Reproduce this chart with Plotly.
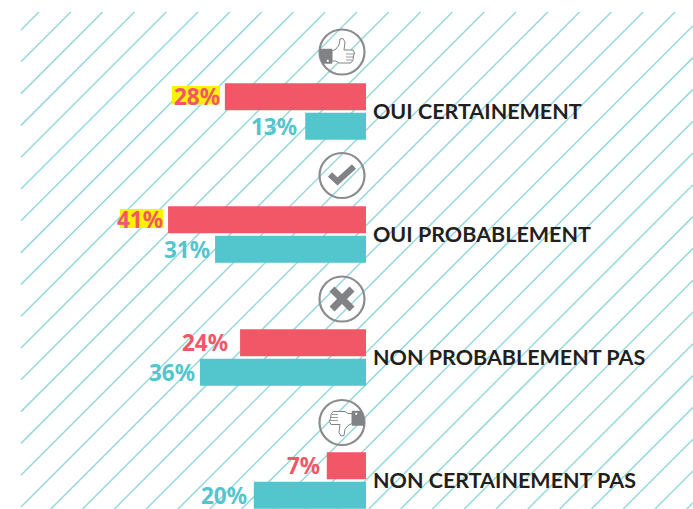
import plotly.graph_objects as go

W, H = 693, 509
categories = ["OUI CERTAINEMENT", "OUI PROBABLEMENT", "NON PROBABLEMENT PAS", "NON CERTAINEMENT PAS"]
red_labels = ["28%", "41%", "24%", "7%"]
teal_labels = ["13%", "31%", "36%", "20%"]
# drawn bar lengths (the source's bars are not strictly proportional)
red_lengths = [28.8, 40.4, 25.7, 8.0]
teal_lengths = [12.4, 30.8, 33.9, 22.9]

RED, TEAL, GREY, HATCH = "#f15767", "#52c5cd", "#808285", "#97d8dd"
K, X0 = 4.9, 366
STEP, Y0 = 123, 111.5
RED_GAPS = [3, 3, 10, 5]
TEAL_GAPS = [6, 3, 3, 5]

def px(x):
    return x / W
def py(y):
    return 1 - y / H
def path(points, close=False):
    s = "M" + " L".join(f"{px(x):.5f},{py(y):.5f}" for x, y in points)
    return s + (" Z" if close else "")

shapes = []
# diagonal hatching, clipped to the panel
L, T, R, B = 21, 12, W, H
c = 51 - 31.8
while c < R + B:
    x1, y1 = c - T, T
    if x1 > R:
        x1, y1 = R, c - R
    x2, y2 = c - B, B
    if x2 < L:
        x2, y2 = L, c - L
    if y1 < y2 and x1 >= L:
        shapes.append(dict(type="path", path=path([(x1, y1), (x2, y2)]), xref="paper", yref="paper",
                           line=dict(color=HATCH, width=1.5), layer="below"))
    c += 31.8

# yellow highlights behind the two largest figures
for x0, y0, x1, y1 in [(172, 86, 220, 104.5), (120, 209, 163.5, 228)]:
    shapes.append(dict(type="rect", x0=px(x0), x1=px(x1), y0=py(y1), y1=py(y0), xref="paper", yref="paper",
                       fillcolor="#fff200", line=dict(width=0), layer="below"))

def line_shape(pts, width=1.0, color=GREY, fill=None, close=False):
    d = dict(type="path", path=path(pts, close), xref="paper", yref="paper", line=dict(color=color, width=width), layer="above")
    if fill:
        d["fillcolor"] = fill
    return d

def circle(cx, cy):
    r = 22.5
    shapes.append(dict(type="circle", x0=px(cx - r), x1=px(cx + r), y0=py(cy + r), y1=py(cy - r), xref="paper", yref="paper",
                       line=dict(color="#8a8c8e", width=2.2), layer="above"))

def thumb(cx, cy, s):
    t = lambda pts: [(cx + s * x, cy + s * y) for x, y in pts]
    shapes.append(line_shape(t([(-10, -3), (-22, -3), (-22, 3), (-21, 7), (-19, 11.5), (-10, 11.5)]), 0.5, GREY, GREY, True))
    shapes.append(line_shape(t([(-15, 8), (-13.5, 8), (-13.5, 9.5), (-15, 9.5)]), 0.5, "#ffffff", "#ffffff", True))
    hand = [(-10, -1), (-6, -3), (-3, -7), (-2, -13), (1, -13.5), (3, -10), (2, -2), (11, -2), (12.5, 1), (11.5, 4),
            (11, 8), (9, 11), (-3, 11), (-6, 9), (-10, 9)]
    shapes.append(line_shape(t(hand), 1.0, GREY, "#ffffff", True))
    for a, b in [((4, 2), (12, 2)), ((4, 5), (11, 5)), ((4, 8), (10, 8))]:
        shapes.append(line_shape(t([a, b]), 0.8))

for i, (cx, cy) in enumerate([(342, 52), (342, 175.5), (342, 299), (342, 422.5)]):
    circle(cx, cy)
    if i == 0:
        thumb(cx, cy, 1)
    elif i == 3:
        thumb(cx, cy, -1)
    elif i == 1:
        shapes.append(line_shape([(cx - 12, cy - 1), (cx - 4.5, cy + 6), (cx + 12, cy - 9)], 6))
    else:
        shapes.append(line_shape([(cx - 10, cy - 10), (cx + 10, cy + 10)], 7))
        shapes.append(line_shape([(cx - 10, cy + 10), (cx + 10, cy - 10)], 7))

fig = go.Figure()
fig.add_bar(y=categories, x=red_lengths, orientation="h", marker=dict(color=RED, line=dict(width=0)), hoverinfo="skip")
fig.add_bar(y=categories, x=teal_lengths, orientation="h", marker=dict(color=TEAL, line=dict(width=0)), hoverinfo="skip")

ann = []
for i, name in enumerate(categories):
    ann.append(dict(x=-5 / K, y=i, yshift=1, xref="x", yref="y", text=name, showarrow=False, xanchor="left", yanchor="middle",
                    font=dict(family="Lato", size=21.5, color="#231f20", weight=700)))
    ann.append(dict(x=red_lengths[i] + RED_GAPS[i] / K, y=i - 15 / STEP, yshift=1, height=26, xref="x", yref="y", text=red_labels[i], showarrow=False,
                    xanchor="right", yanchor="middle",
                    font=dict(family="Noto Sans", size=22.5, color=RED, weight=700)))
    ann.append(dict(x=teal_lengths[i] + TEAL_GAPS[i] / K, y=i + 15 / STEP, yshift=1, height=26, xref="x", yref="y", text=teal_labels[i], showarrow=False,
                    xanchor="right", yanchor="middle",
                    font=dict(family="Noto Sans", size=22.5, color=TEAL, weight=700)))

fig.update_layout(
    width=W, height=H, margin=dict(l=0, r=0, t=0, b=0), paper_bgcolor="white", plot_bgcolor="rgba(0,0,0,0)",
    barmode="group", bargap=0.52, bargroupgap=0.085, showlegend=False, shapes=shapes, annotations=ann,
    xaxis=dict(range=[X0 / K, (X0 - W) / K], visible=False, fixedrange=True),
    yaxis=dict(type="category", categoryorder="array", categoryarray=categories,
               range=[(H - Y0) / STEP, -Y0 / STEP], visible=False, fixedrange=True),
)
fig.write_html("out.html", config=dict(displayModeBar=False),
               post_script="document.body.style.margin='0';document.body.style.overflow='hidden';")
